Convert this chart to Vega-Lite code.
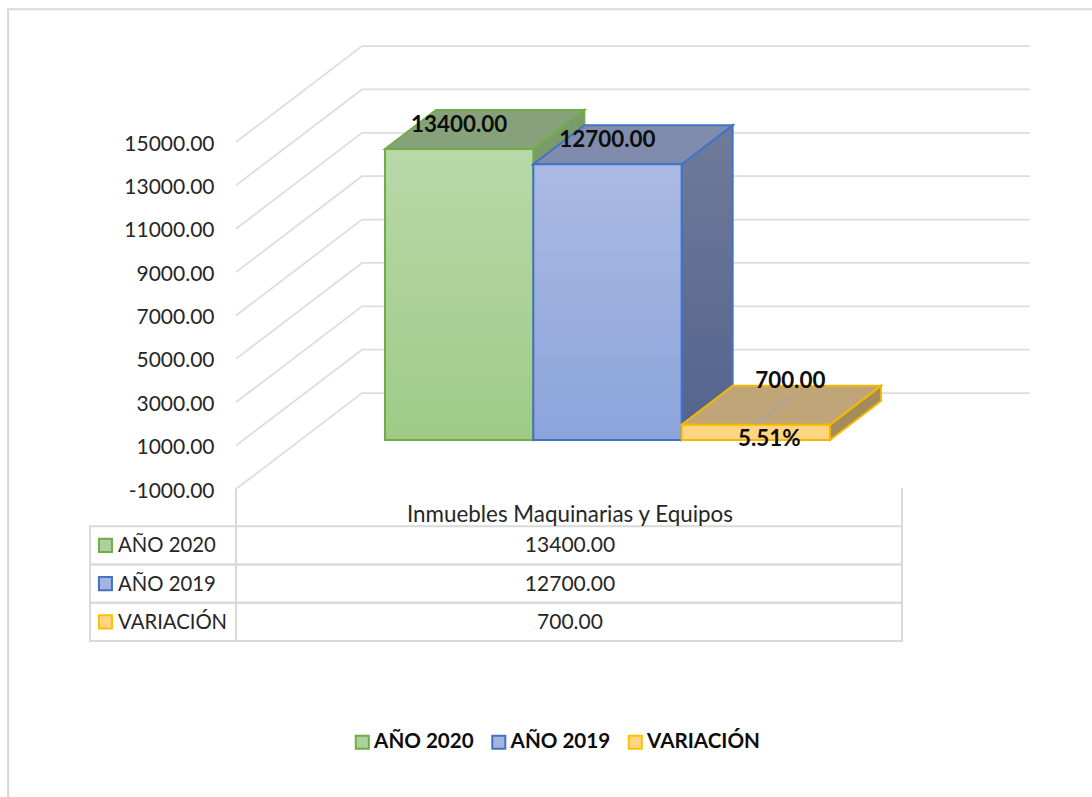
{
"$schema":"https://vega.github.io/schema/vega-lite/v6.json",
"width":1092,"height":797,"autosize":{"type":"none"},"padding":0,"background":"white",
"config":{"view":{"stroke":null},"font":"Lato","text":{"font":"Lato"}},
"datasets":{
"bars":[
{"series":"AÑO 2020","slot":0,"slotEnd":1,"slotMid":0.5,"value":13400,"base":0},
{"series":"AÑO 2019","slot":1,"slotEnd":2,"slotMid":1.5,"value":12700,"base":0},
{"series":"VARIACIÓN","slot":2,"slotEnd":3,"slotMid":2.5,"value":700,"base":0,"share":"5.51%"}
],
"faces":[
{"face":"gside","n":1,"slot":1,"level":13400},{"face":"gside","n":2,"slot":1.344,"level":15196},{"face":"gside","n":3,"slot":1.344,"level":1796},{"face":"gside","n":4,"slot":1,"level":0},
{"face":"gtop","n":1,"slot":0,"level":13400},{"face":"gtop","n":2,"slot":0.344,"level":15196},{"face":"gtop","n":3,"slot":1.344,"level":15196},{"face":"gtop","n":4,"slot":1,"level":13400},
{"face":"bside","n":1,"slot":2,"level":12700},{"face":"bside","n":2,"slot":2.344,"level":14496},{"face":"bside","n":3,"slot":2.344,"level":1796},{"face":"bside","n":4,"slot":2,"level":0},
{"face":"btop","n":1,"slot":1,"level":12700},{"face":"btop","n":2,"slot":1.344,"level":14496},{"face":"btop","n":3,"slot":2.344,"level":14496},{"face":"btop","n":4,"slot":2,"level":12700},
{"face":"yside","n":1,"slot":3,"level":700},{"face":"yside","n":2,"slot":3.344,"level":2496},{"face":"yside","n":3,"slot":3.344,"level":1796},{"face":"yside","n":4,"slot":3,"level":0},
{"face":"ytop","n":1,"slot":2,"level":700},{"face":"ytop","n":2,"slot":2.344,"level":2496},{"face":"ytop","n":3,"slot":3.344,"level":2496},{"face":"ytop","n":4,"slot":3,"level":700},
{"face":"leader","n":1,"slot":2.5,"level":737},{"face":"leader","n":2,"slot":2.738,"level":1980}
],
"grid":[
{"tick":-1000,"n":1,"slot":-1.005,"level":-1000},{"tick":-1000,"n":2,"slot":-0.155,"level":3424},{"tick":-1000,"n":3,"slot":4.349,"level":3424},
{"tick":1000,"n":1,"slot":-1.005,"level":1000},{"tick":1000,"n":2,"slot":-0.155,"level":5424},{"tick":1000,"n":3,"slot":4.349,"level":5424},
{"tick":3000,"n":1,"slot":-1.005,"level":3000},{"tick":3000,"n":2,"slot":-0.155,"level":7424},{"tick":3000,"n":3,"slot":4.349,"level":7424},
{"tick":5000,"n":1,"slot":-1.005,"level":5000},{"tick":5000,"n":2,"slot":-0.155,"level":9424},{"tick":5000,"n":3,"slot":4.349,"level":9424},
{"tick":7000,"n":1,"slot":-1.005,"level":7000},{"tick":7000,"n":2,"slot":-0.155,"level":11424},{"tick":7000,"n":3,"slot":4.349,"level":11424},
{"tick":9000,"n":1,"slot":-1.005,"level":9000},{"tick":9000,"n":2,"slot":-0.155,"level":13424},{"tick":9000,"n":3,"slot":4.349,"level":13424},
{"tick":11000,"n":1,"slot":-1.005,"level":11000},{"tick":11000,"n":2,"slot":-0.155,"level":15424},{"tick":11000,"n":3,"slot":4.349,"level":15424},
{"tick":13000,"n":1,"slot":-1.005,"level":13000},{"tick":13000,"n":2,"slot":-0.155,"level":17424},{"tick":13000,"n":3,"slot":4.349,"level":17424},
{"tick":15000,"n":1,"slot":-1.005,"level":15000},{"tick":15000,"n":2,"slot":-0.155,"level":19424},{"tick":15000,"n":3,"slot":4.349,"level":19424}
],
"frame":[{"left":-2.542,"right":5.2,"top":21120,"bottom":-17000}],
"table":[
{"row":"AÑO 2020","amount":13400},
{"row":"AÑO 2019","amount":12700},
{"row":"VARIACIÓN","amount":700}
],
"header":[{"row":"Inmuebles Maquinarias y Equipos"}]
},
"resolve":{"scale":{"y":"independent"}},
"layer":[
{"layer":[
 {"data":{"name":"frame"},"mark":{"type":"rect","fill":null,"stroke":"#D9D9D9","strokeWidth":2.2},
  "encoding":{"x":{"field":"left","type":"quantitative","axis":null,"scale":{"domain":[-2.596,4.767],"nice":false,"zero":false}},"x2":{"field":"right"},"y":{"field":"top","type":"quantitative"},"y2":{"field":"bottom"}}},
 {"data":{"name":"grid"},"mark":{"type":"line","stroke":"#DEDEDE","strokeWidth":1.8},
  "encoding":{"x":{"field":"slot","type":"quantitative","axis":null,"scale":{"domain":[-2.596,4.767],"nice":false,"zero":false}},
   "y":{"field":"level","type":"quantitative","scale":{"domain":[-1000,15000],"range":[489,142],"nice":false,"zero":false},
    "axis":{"orient":"left","offset":-214,"title":null,"domain":false,"ticks":false,"grid":false,"labelPadding":0,"labelOffset":2,"values":[-1000,1000,3000,5000,7000,9000,11000,13000,15000],"format":".2f","labelExpr":"replace(datum.label,'−','-')","labelFont":"Lato","labelFontSize":21,"labelColor":"#262626","labelOverlap":false,"labelFlush":false}},
   "detail":{"field":"tick"},"order":{"field":"n"}}}
]},
{"layer":[
 {"data":{"name":"faces"},"transform":[{"filter":"datum.face==='gside'"}],"mark":{"type":"line","interpolate":"linear-closed","fill":"#7B9A6C","stroke":"#70AD47","strokeWidth":2},
  "encoding":{"x":{"field":"slot","type":"quantitative","axis":null,"scale":{"domain":[-2.596,4.767],"nice":false,"zero":false}},"y":{"field":"level","type":"quantitative","axis":null,"scale":{"domain":[0,13400],"range":[440,149],"nice":false,"zero":false}},"order":{"field":"n"}}},
 {"data":{"name":"faces"},"transform":[{"filter":"datum.face==='gtop'"}],"mark":{"type":"line","interpolate":"linear-closed","fill":"#87A27B","stroke":"#70AD47","strokeWidth":2},
  "encoding":{"x":{"field":"slot","type":"quantitative"},"y":{"field":"level","type":"quantitative"},"order":{"field":"n"}}},
 {"data":{"name":"bars"},"transform":[{"filter":"datum.series==='AÑO 2020'"}],"mark":{"type":"rect","stroke":"#70AD47","strokeWidth":2,"fill":{"gradient":"linear","x1":0,"y1":0,"x2":0,"y2":1,"stops":[{"offset":0,"color":"#B8D8A8"},{"offset":1,"color":"#9FCB87"}]}},
  "encoding":{"x":{"field":"slot","type":"quantitative"},"x2":{"field":"slotEnd"},"y":{"field":"value","type":"quantitative"},"y2":{"field":"base"}}},
 {"data":{"name":"faces"},"transform":[{"filter":"datum.face==='bside'"}],"mark":{"type":"line","interpolate":"linear-closed","stroke":"#4472C4","strokeWidth":2,"fill":{"gradient":"linear","x1":0,"y1":0,"x2":0,"y2":1,"stops":[{"offset":0,"color":"#6F7B9A"},{"offset":1,"color":"#53638C"}]}},
  "encoding":{"x":{"field":"slot","type":"quantitative"},"y":{"field":"level","type":"quantitative"},"order":{"field":"n"}}},
 {"data":{"name":"faces"},"transform":[{"filter":"datum.face==='btop'"}],"mark":{"type":"line","interpolate":"linear-closed","fill":"#808CAE","stroke":"#4472C4","strokeWidth":2},
  "encoding":{"x":{"field":"slot","type":"quantitative"},"y":{"field":"level","type":"quantitative"},"order":{"field":"n"}}},
 {"data":{"name":"bars"},"transform":[{"filter":"datum.series==='AÑO 2019'"}],"mark":{"type":"rect","stroke":"#4472C4","strokeWidth":2,"fill":{"gradient":"linear","x1":0,"y1":0,"x2":0,"y2":1,"stops":[{"offset":0,"color":"#ABBAE3"},{"offset":1,"color":"#8BA4DB"}]}},
  "encoding":{"x":{"field":"slot","type":"quantitative"},"x2":{"field":"slotEnd"},"y":{"field":"value","type":"quantitative"},"y2":{"field":"base"}}},
 {"data":{"name":"faces"},"transform":[{"filter":"datum.face==='yside'"}],"mark":{"type":"line","interpolate":"linear-closed","fill":"#A38B5C","stroke":"#F5B800","strokeWidth":2},
  "encoding":{"x":{"field":"slot","type":"quantitative"},"y":{"field":"level","type":"quantitative"},"order":{"field":"n"}}},
 {"data":{"name":"faces"},"transform":[{"filter":"datum.face==='ytop'"}],"mark":{"type":"line","interpolate":"linear-closed","fill":"#BFA577","stroke":"#F5B800","strokeWidth":2},
  "encoding":{"x":{"field":"slot","type":"quantitative"},"y":{"field":"level","type":"quantitative"},"order":{"field":"n"}}},
 {"data":{"name":"bars"},"transform":[{"filter":"datum.series==='VARIACIÓN'"}],"mark":{"type":"rect","stroke":"#F5B800","strokeWidth":2,"fill":"#FFD582"},
  "encoding":{"x":{"field":"slot","type":"quantitative"},"x2":{"field":"slotEnd"},"y":{"field":"value","type":"quantitative"},"y2":{"field":"base"}}},
 {"data":{"name":"faces"},"transform":[{"filter":"datum.face==='leader'"}],"mark":{"type":"line","stroke":"#A6A6A6","strokeWidth":2},
  "encoding":{"x":{"field":"slot","type":"quantitative"},"y":{"field":"level","type":"quantitative"},"order":{"field":"n"}}},
 {"data":{"name":"bars"},"transform":[{"filter":"datum.value>1000"}],"mark":{"type":"text","font":"Lato","fontWeight":"bold","fontSize":22.4,"color":"#0D0D0D","dy":-24.5},
  "encoding":{"x":{"field":"slotMid","type":"quantitative"},"y":{"field":"value","type":"quantitative"},"text":{"field":"value","type":"quantitative","format":".2f"}}},
 {"data":{"name":"bars"},"transform":[{"filter":"datum.value<1000"}],"mark":{"type":"text","font":"Lato","fontWeight":"bold","fontSize":22.4,"color":"#0D0D0D","dy":-44,"dx":34.5},
  "encoding":{"x":{"field":"slotMid","type":"quantitative"},"y":{"field":"value","type":"quantitative"},"text":{"field":"value","type":"quantitative","format":".2f"}}},
 {"data":{"name":"bars"},"transform":[{"filter":"datum.value<1000"}],"mark":{"type":"text","font":"Lato","fontWeight":"bold","fontSize":22.4,"color":"#0D0D0D","dy":14,"dx":13.5},
  "encoding":{"x":{"field":"slotMid","type":"quantitative"},"y":{"field":"value","type":"quantitative"},"text":{"field":"share","type":"nominal"}}}
]},
{"layer":[
 {"data":{"name":"table"},"mark":{"type":"rect","fill":null,"stroke":"#D9D9D9","strokeWidth":2},
  "encoding":{"x":{"datum":-1.989,"type":"quantitative","axis":null,"scale":{"domain":[-2.596,4.767],"nice":false,"zero":false}},"x2":{"datum":-1.005},
   "y":{"field":"row","type":"nominal","axis":null,"sort":null,"scale":{"domain":["Inmuebles Maquinarias y Equipos","AÑO 2020","AÑO 2019","VARIACIÓN"],"range":[488,641],"paddingInner":0,"paddingOuter":0}}}},
 {"data":{"name":"table"},"mark":{"type":"rect","fill":null,"stroke":"#D9D9D9","strokeWidth":2},
  "encoding":{"x":{"datum":-1.005,"type":"quantitative"},"x2":{"datum":3.486},"y":{"field":"row","type":"nominal"}}},
 {"data":{"name":"header"},"mark":{"type":"rect","fill":null,"stroke":"#D9D9D9","strokeWidth":2},
  "encoding":{"x":{"datum":-1.005,"type":"quantitative"},"x2":{"datum":-1.005},"y":{"field":"row","type":"nominal"}}},
 {"data":{"name":"header"},"mark":{"type":"rect","fill":null,"stroke":"#D9D9D9","strokeWidth":2},
  "encoding":{"x":{"datum":3.486,"type":"quantitative"},"x2":{"datum":3.486},"y":{"field":"row","type":"nominal"}}},
 {"data":{"name":"header"},"mark":{"type":"text","font":"Lato","fontSize":22.4,"color":"#262626","dy":8},
  "encoding":{"x":{"datum":1.247,"type":"quantitative"},"y":{"field":"row","type":"nominal"},"text":{"field":"row","type":"nominal"}}},
 {"data":{"name":"table"},"mark":{"type":"text","font":"Lato","fontSize":21,"color":"#262626","dy":1},
  "encoding":{"x":{"datum":1.247,"type":"quantitative"},"y":{"field":"row","type":"nominal"},"text":{"field":"amount","type":"quantitative","format":".2f"}}},
 {"data":{"name":"table"},"mark":{"type":"text","font":"Lato","fontSize":20.3,"color":"#262626","align":"left","dy":1},
  "encoding":{"x":{"datum":-1.80,"type":"quantitative"},"y":{"field":"row","type":"nominal"},"text":{"field":"row","type":"nominal"}}},
 {"data":{"name":"table"},"mark":{"type":"point","shape":"square","filled":true,"size":170,"strokeWidth":2,"opacity":1},
  "encoding":{"x":{"datum":-1.885,"type":"quantitative"},"y":{"field":"row","type":"nominal"},
   "fill":{"field":"row","type":"nominal","title":null,"scale":{"domain":["AÑO 2020","AÑO 2019","VARIACIÓN"],"range":["#ADD19C","#A3B4E0","#FFD582"]},
    "legend":{"orient":"none","legendX":352,"legendY":732,"direction":"horizontal","columns":3,"columnPadding":13.5,"title":null,"symbolType":"square","symbolSize":170,"symbolStrokeWidth":2,"labelFont":"Lato","labelFontWeight":"bold","labelFontSize":20.6,"labelColor":"#0D0D0D","labelOffset":1.5,"labelLimit":200}},
   "stroke":{"field":"row","type":"nominal","title":null,"scale":{"domain":["AÑO 2020","AÑO 2019","VARIACIÓN"],"range":["#70AD47","#4472C4","#FFC000"]},
    "legend":{"orient":"none","legendX":352,"legendY":732,"direction":"horizontal","columns":3,"columnPadding":13.5,"title":null,"symbolType":"square","symbolSize":170,"symbolStrokeWidth":2,"labelFont":"Lato","labelFontWeight":"bold","labelFontSize":20.6,"labelColor":"#0D0D0D","labelOffset":1.5,"labelLimit":200}}}}
]}
]
}
